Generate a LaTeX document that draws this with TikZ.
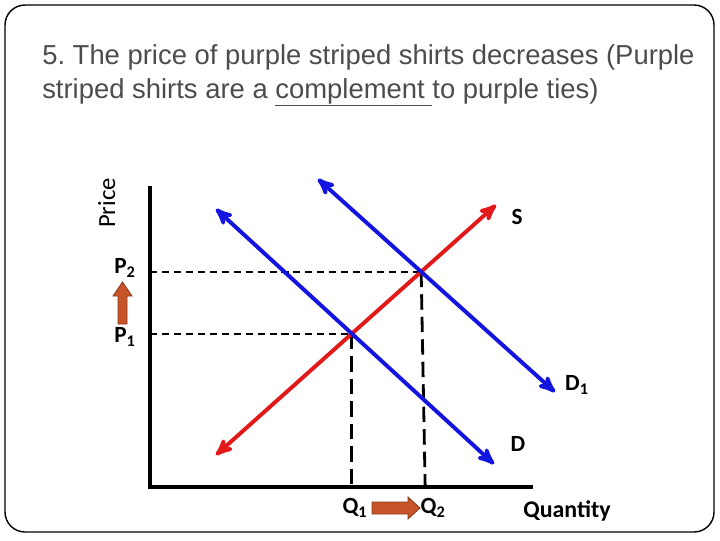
\documentclass[tikz,border=0pt]{standalone}
\usepackage{fontspec}
\setmainfont{Liberation Sans}
\newfontfamily\ttlfont{Liberation Sans}
\newfontfamily\lblfont{Carlito}
\usetikzlibrary{arrows,calc}
\usepackage{tkz-euclide}
\definecolor{SupClr}{rgb}{0.89,0.1,0.1}
\definecolor{DemClr}{rgb}{0.08,0.08,0.88}
\definecolor{ShiftClr}{rgb}{0.78,0.33,0.16}
\definecolor{TtlClr}{rgb}{0.3,0.3,0.3}
\tikzset{
  curve/.style={line width=2.8pt,-stealth',shorten >=1pt},
  guide/.style={line width=1.4pt,dash pattern=on 5pt off 3.5pt},
  lbl/.style={font=\lblfont\fontsize{16.5}{18}\selectfont\bfseries,inner sep=0pt},
  shiftarrow/.style={fill=ShiftClr,draw=ShiftClr!70!black,line width=.6pt}
}
\frenchspacing

\begin{document}
\begin{tikzpicture}[x=.025cm,y=-.025cm]
\useasboundingbox (0,0) rectangle (720,540);
\draw[line width=1pt,rounded corners=.5cm] (5,5) rectangle (714,532);

% title
\node[anchor=base west,inner sep=0pt,text=TtlClr,font=\ttlfont\fontsize{19.5}{22}\selectfont] (t1) at (42,64) {5. The price of purple striped shirts decreases (Purple};
\node[anchor=base west,inner sep=0pt,text=TtlClr,font=\ttlfont\fontsize{19.5}{22}\selectfont] (t2) at (42,98) {striped shirts are a \underline{complement\ }to purple ties)};

\tkzDefPoint(150,487){O}
\tkzDefPoint(150,186){Ytop}
\tkzDefPoint(533,487){Xend}
\tkzDefPoint(216,455){Sa}
\tkzDefPoint(497,204){Sb}
\tkzDefPoint(216,209){Da}
\tkzDefPoint(495,465){Db}
\tkzDefPoint(318,179){Ea}
\tkzDefPoint(556,393){Eb}
\coordinate (E1) at (intersection of Sa--Sb and Da--Db);
\coordinate (E2) at (intersection of Sa--Sb and Ea--Eb);

% guides
\draw[guide] (O |- E1) -- (E1);
\draw[guide] (O |- E2) -- (E2);
\draw[guide,line width=2pt,dash pattern=on 11pt off 5pt] (E1) -- (E1 |- O);
\draw[guide,line width=2pt,dash pattern=on 11pt off 5pt] (E2) -- ($(E2 |- O)+(4,0)$);

% axes
\draw[line width=2.2pt] (Ytop) -- (O) -- (Xend);

% curves
\draw[curve,SupClr,stealth'-stealth'] (Sa) -- (Sb);
\draw[curve,DemClr,stealth'-stealth'] (Da) -- (Db);
\draw[curve,DemClr,stealth'-stealth'] (Ea) -- (Eb);

% shift arrows
\draw[shiftarrow] (118,324) -- (127,324) -- (127,296) -- (132,296) -- (122.5,282) -- (113,296) -- (118,296) -- cycle;
\draw[shiftarrow] (372,502) -- (408,502) -- (408,497) -- (420,508) -- (408,519) -- (408,514) -- (372,514) -- cycle;

% labels
\node[lbl] (s) at (517,217) {S};
\node[lbl] (d) at (518,444) {D};
\node[lbl] (d1) at (577,385) {D\textsubscript{1}};
\node[lbl] (p2) at (125,268) {P\textsubscript{2}};
\node[lbl] (p1) at (125,337) {P\textsubscript{1}};
\node[lbl] (q1) at (355,508) {Q\textsubscript{1}};
\node[lbl] (q2) at (433,508) {Q\textsubscript{2}};
\node[lbl,font=\lblfont\fontsize{17}{19}\selectfont\bfseries,anchor=base] (qty) at (567,517) {Quantity};
\node[lbl,font=\lblfont\fontsize{17.5}{20}\selectfont,rotate=90,anchor=base] (price) at (115,203) {Price};
\end{tikzpicture}
\end{document}
